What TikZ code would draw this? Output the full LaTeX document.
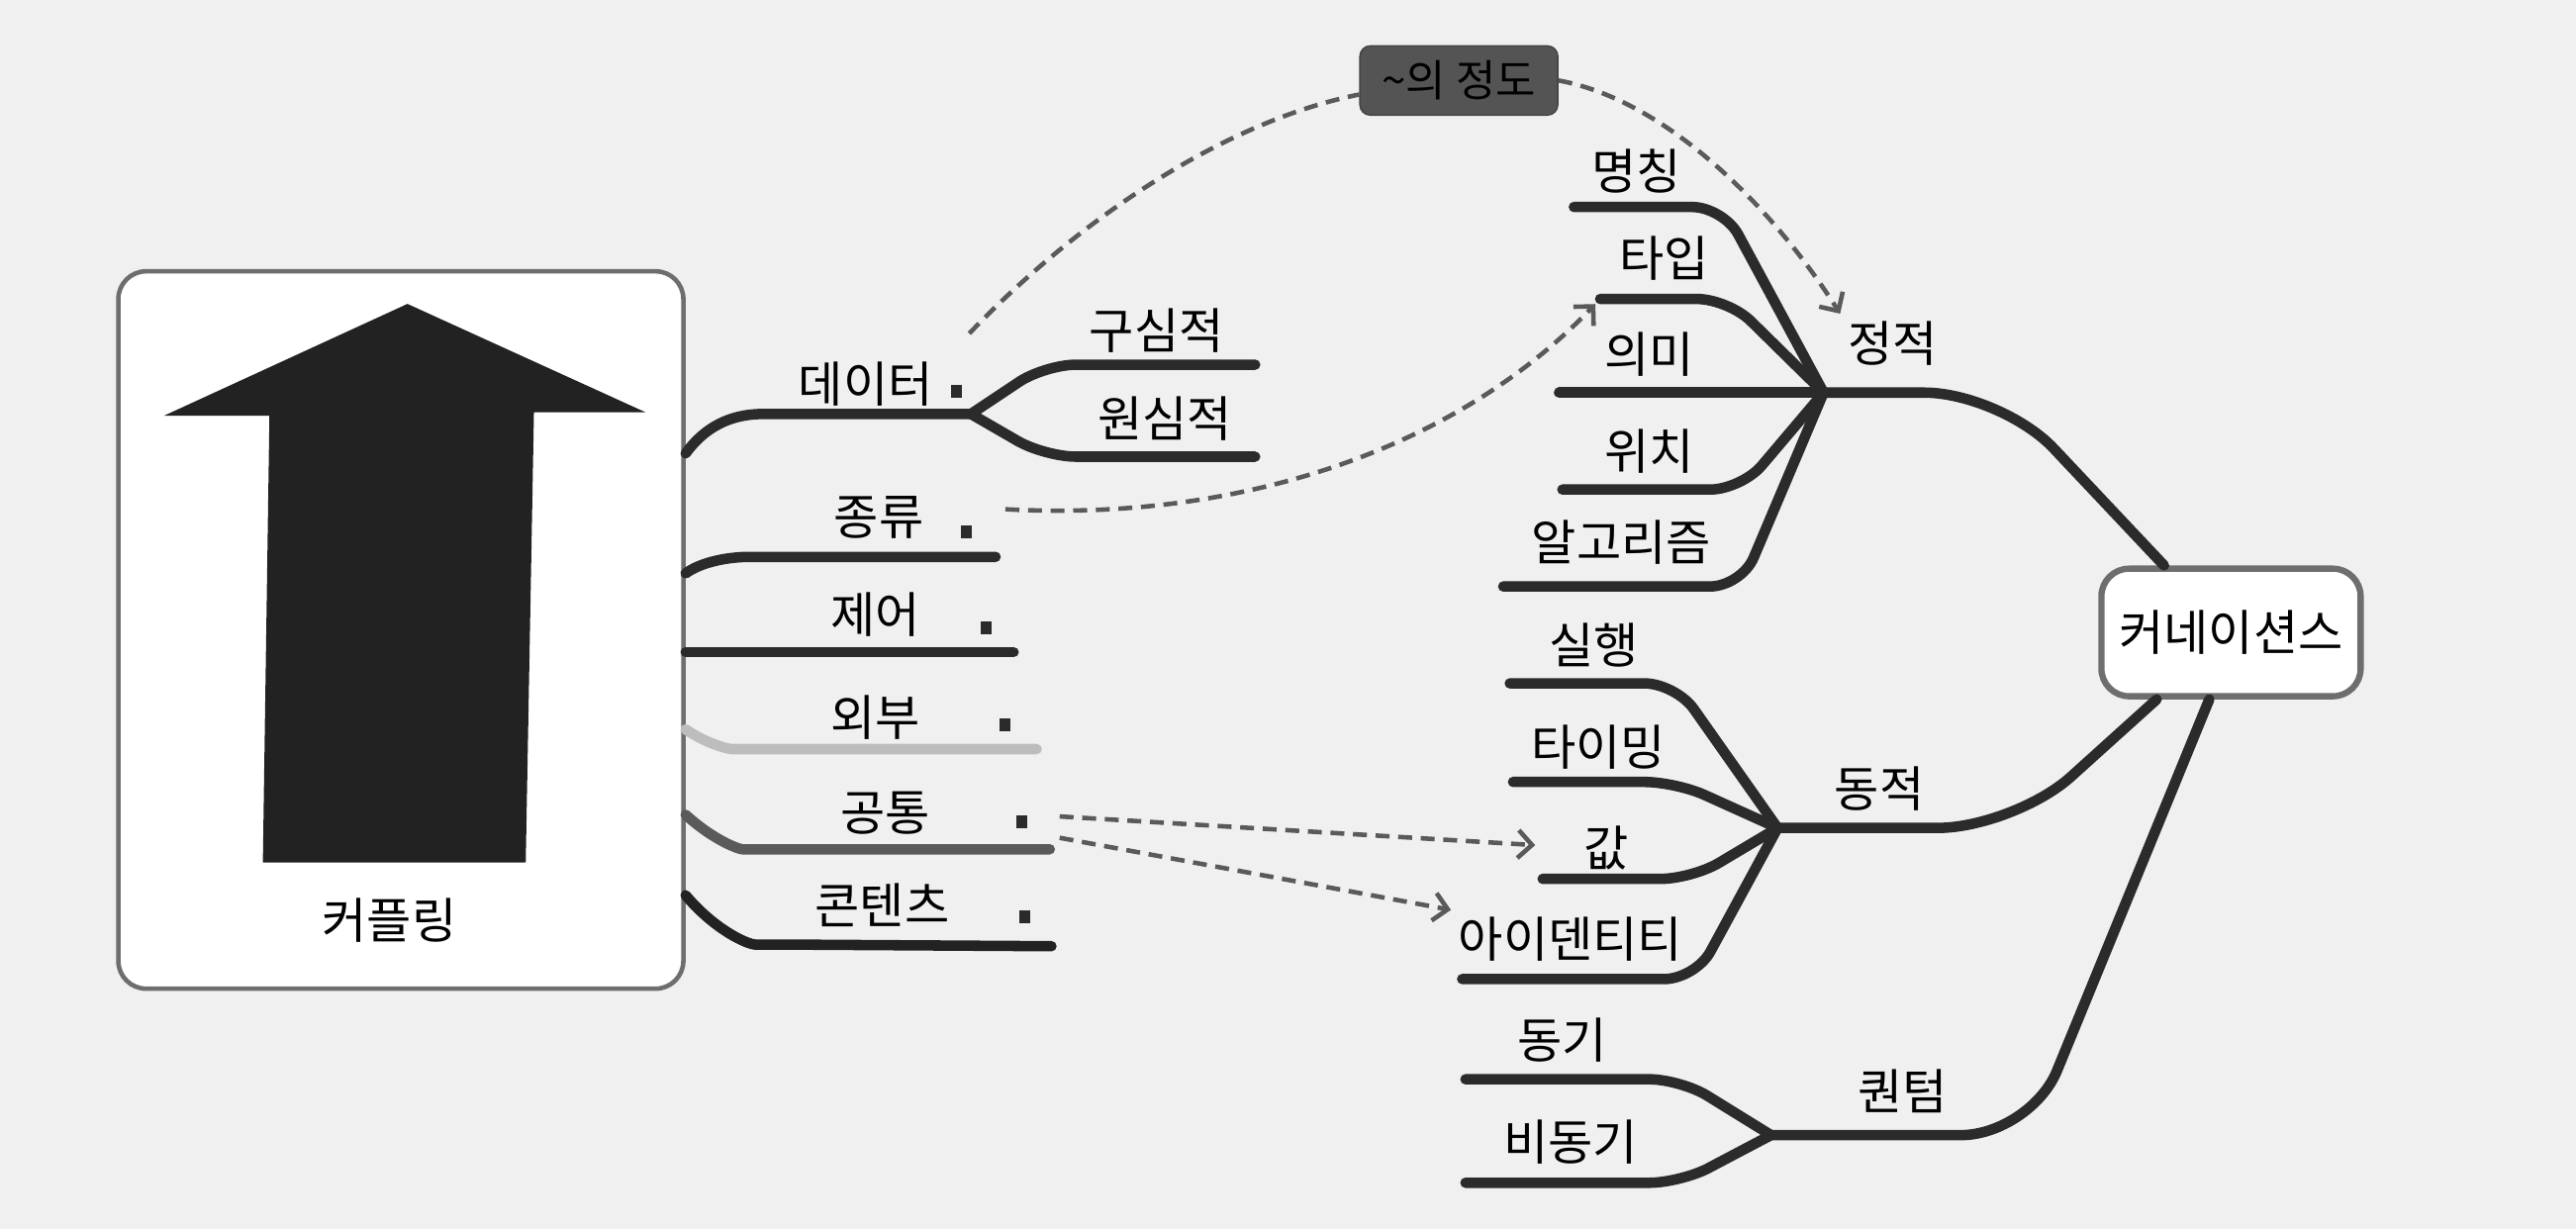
\documentclass[tikz,border=0pt]{standalone}
\usepackage{fontspec}
\setmainfont{Noto Sans CJK KR}
\usepackage{xcolor}
\usetikzlibrary{arrows.meta, positioning, calc}

\definecolor{paper}{gray}{0.94}
\definecolor{ink}{HTML}{2B2B2B}
\definecolor{midink}{HTML}{5A5A5A}
\definecolor{lightink}{HTML}{BDBDBD}
\definecolor{frame}{HTML}{6E6E6E}
\definecolor{tagfill}{HTML}{545454}

\begin{document}
\begin{tikzpicture}[x=0.0166cm, y=-0.0166cm,
    lbl/.style={font=\fontsize{14}{16}\selectfont, text=black, inner sep=2pt},
    br/.style={line width=3pt, draw=ink, line cap=round, line join=round, rounded corners=9pt},
    box/.style={draw=frame, fill=white, rounded corners=8pt, line width=1.3pt},
    tag/.style={draw=tagfill!80!black, fill=tagfill, rounded corners=3pt, minimum width=2cm,
        minimum height=0.7cm, text=black, font=\fontsize{12.5}{14}\selectfont},
    notemark/.style={fill=ink, minimum width=0.11cm, minimum height=0.13cm, inner sep=0pt},
    link/.style={draw=midink, line width=1.3pt, dash pattern=on 4pt off 2.5pt,
        -{Straight Barb[length=4pt,width=8pt]}}]
    \useasboundingbox (0,0) rectangle (1568,748);
    \fill[paper] (0,0) rectangle (1568,748);

    % 1. 커플링 상자와 화살표
    \node[box, minimum width=5.71cm, minimum height=7.25cm] (coup) at (244,383.5) {};
    \fill[ink!80!black] (248,185) -- (393,251) -- (325,251) -- (320,525)
        -- (160,525) -- (164,253) -- (100,253) -- cycle;
    \node[lbl] (l-coup) at (237,560) {커플링};

    % 2. 커플링의 가지
    \coordinate (jd) at (591,252);
    \draw[br] (coup.east |- 0,276) .. controls (432,256) and (450,252) .. (484,252) -- (jd);
    \draw[br] (jd) -- (636,222) -- (764,222);
    \draw[br] (jd) -- (636,278) -- (764,278);
    \draw[br] (coup.east |- 0,349) .. controls (430,340) and (450,339) .. (475,339) -- (606,339);
    \draw[br] (coup.east |- 0,397) -- (617,397);
    \draw[br, draw=lightink] (coup.east |- 0,444) .. controls (432,454) and (445,456) .. (464,456) -- (631,456);
    \draw[br, draw=midink] (coup.east |- 0,496) .. controls (435,512) and (450,517) .. (471,517) -- (639,517);
    \draw[br, draw=ink!80!black] (coup.east |- 0,545) .. controls (435,566) and (455,575) .. (479,575) -- (640,576);

    \node[lbl] (l-data) at (527,234) {데이터};
    \node[lbl] (l-kind) at (535,315) {종류};
    \node[lbl] (l-ctrl) at (533,374) {제어};
    \node[lbl] (l-ext) at (533,437) {외부};
    \node[lbl] (l-com) at (539,495) {공통};
    \node[lbl] (l-cont) at (537,551) {콘텐츠};
    \node[lbl] (l-aff) at (704,201) {구심적};
    \node[lbl] (l-eff) at (709,255) {원심적};

    \node[notemark] (mk-data) at (582,238) {};
    \node[notemark] (mk-kind) at (588,324) {};
    \node[notemark] (mk-ctrl) at (600,382) {};
    \node[notemark] (mk-ext) at (612,441) {};
    \node[notemark] (mk-com) at (622,500) {};
    \node[notemark] (mk-cont) at (624,558) {};

    % 3. 커네이션스와 정적/동적/퀀텀
    \node[box, line width=1.8pt, minimum width=2.62cm, minimum height=1.29cm,
        font=\fontsize{14}{16}\selectfont] (conn) at (1358,385) {커네이션스};

    \coordinate (js) at (1110,239);
    \coordinate (s-type) at (974,182);
    \draw[br] (958,126) -- (1049,126) -- (js);
    \draw[br] (s-type) -- (1052,182) -- (js);
    \draw[br] (949,239) -- (js);
    \draw[br] (951,298) -- (1060,298) -- (js);
    \draw[br] (915,357) -- (1060,357) -- (js);
    \draw[br, rounded corners=22pt] (js) -- (1218,239) -- (conn.135);

    \coordinate (jdyn) at (1082,504);
    \draw[br] (919,416) -- (1020,416) -- (jdyn);
    \draw[br] (921,476) -- (1020,476) -- (jdyn);
    \draw[br] (939,535) -- (1030,535) -- (jdyn);
    \draw[br] (890,596) -- (1032,596) -- (jdyn);
    \draw[br, rounded corners=22pt] (jdyn) -- (1226,504) -- (conn.222);

    \coordinate (jq) at (1078,691);
    \draw[br] (892,657) -- (1023,657) -- (jq);
    \draw[br] (892,720) -- (1023,720) -- (jq);
    \draw[br, rounded corners=20pt] (jq) -- (1236,691) -- (conn.252);

    \node[lbl] (l-name) at (996,104) {명칭};
    \node[lbl] (l-type) at (1013,157) {타입};
    \node[lbl] (l-mean) at (1004,216) {의미};
    \node[lbl] (l-pos) at (1004,275) {위치};
    \node[lbl] (l-algo) at (987,330) {알고리즘};
    \node[lbl] (l-static) at (1152,209) {정적};
    \node[lbl] (l-exec) at (970,393) {실행};
    \node[lbl] (l-time) at (973,455) {타이밍};
    \node[lbl] (l-val) at (978,516) {값};
    \node[lbl] (l-ident) at (956,572) {아이덴티티};
    \node[lbl] (l-dyn) at (1144,480) {동적};
    \node[lbl] (l-sync) at (951,633) {동기};
    \node[lbl] (l-async) at (956,695) {비동기};
    \node[lbl] (l-quant) at (1158,664) {퀀텀};

    % 4. 점선 연결
    \node[tag] (deg) at (888,49) {\textasciitilde 의 정도};
    \coordinate (d1s) at (590,203);
    \coordinate (d3s) at (612,310);
    \coordinate (d4s) at (645,497);
    \coordinate (d5s) at (645,510);
    \draw[link, -] (d1s) .. controls (650,140) and (740,75) .. (deg.188);
    \draw[link] (deg.east) .. controls (1010,60) and (1075,120) .. (l-static.north west);
    \draw[link, shorten >=2pt] (d3s) .. controls (760,318) and (890,270) .. (s-type);
    \draw[link, shorten >=0.42cm] (d4s) -- (l-val.west);
    \draw[link] (d5s) -- (l-ident.north west);
\end{tikzpicture}
\end{document}
